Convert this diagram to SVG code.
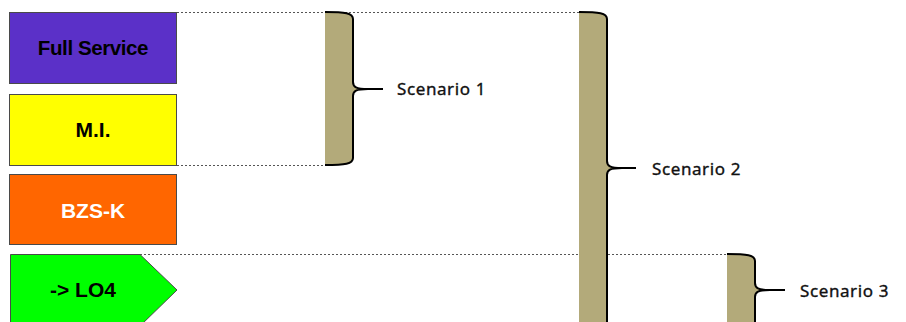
<svg xmlns="http://www.w3.org/2000/svg" width="906" height="322" viewBox="0 0 906 322">
<style>
.box{stroke:#4a4a4a;stroke-width:1}
.lbl{font-family:"Liberation Sans",Arial,sans-serif;font-weight:bold;text-anchor:middle}
.dot{stroke:#555;stroke-width:1;stroke-dasharray:2,2;fill:none}
.bfill{fill:#b3aa7a;stroke:none}
.bline{fill:none;stroke:#000;stroke-width:2}
.sc{font-family:"Noto Sans","Open Sans",sans-serif;font-size:17px;letter-spacing:0.6px;fill:#111;stroke:#111;stroke-width:0.35}
</style>
<rect width="906" height="322" fill="#fff"/>
<g id="connectors">
<line class="dot" x1="177" y1="12.5" x2="580" y2="12.5"/>
<line class="dot" x1="177" y1="165.5" x2="326" y2="165.5"/>
<line class="dot" x1="140" y1="254.5" x2="728" y2="254.5"/>
</g>
<g id="node-full-service">
<rect class="box" x="9.5" y="12.5" width="167" height="71" fill="#5b30c8"/>
<text class="lbl" x="93" y="55" font-size="20.5" letter-spacing="-0.4">Full Service</text>
</g>
<g id="node-mi">
<rect class="box" x="9.5" y="94.5" width="167" height="71" fill="#ffff00"/>
<text class="lbl" x="93" y="137" font-size="21">M.I.</text>
</g>
<g id="node-bzsk">
<rect class="box" x="9.5" y="174.5" width="167" height="70" fill="#ff6600"/>
<text class="lbl" x="93" y="218" font-size="21" fill="#fff">BZS-K</text>
</g>
<g id="node-lo4">
<path class="box" d="M10.5,254.5 H140 L177,290 L140,326 H10.5 Z" fill="#00ff00"/>
<text class="lbl" x="83" y="297" font-size="21">-&gt; LO4</text>
</g>
<g id="scenario-1">
<path class="bfill" d="M325,12 C345,12 353,13 353,19 V82 C353,87 356,89 368,89 C356,89 353,91 353,96 V158 C353,164 345,165 325,165 Z"/>
<path class="bline" d="M325,12 C345,12 353,13 353,19 V82 C353,87 356,89 368,89 H383 M368,89 C356,89 353,91 353,96 V158 C353,164 345,165 325,165"/>
<text class="sc" x="397" y="95">Scenario 1</text>
</g>
<g id="scenario-2">
<path class="bfill" d="M579,12 C599,12 607,13 607,19 V161 C607,166 610,168 622,168 C610,168 607,170 607,175 V330 H579 Z"/>
<path class="bline" d="M579,12 C599,12 607,13 607,19 V161 C607,166 610,168 622,168 H636 M622,168 C610,168 607,170 607,175 V330"/>
<text class="sc" x="652" y="175">Scenario 2</text>
</g>
<g id="scenario-3">
<path class="bfill" d="M727,254 C747,254 755,255 755,261 V283 C755,288 758,290 770,290 C758,290 755,292 755,297 V330 H727 Z"/>
<path class="bline" d="M727,254 C747,254 755,255 755,261 V283 C755,288 758,290 770,290 H785 M770,290 C758,290 755,292 755,297 V330"/>
<text class="sc" x="800" y="297">Scenario 3</text>
</g>
</svg>
